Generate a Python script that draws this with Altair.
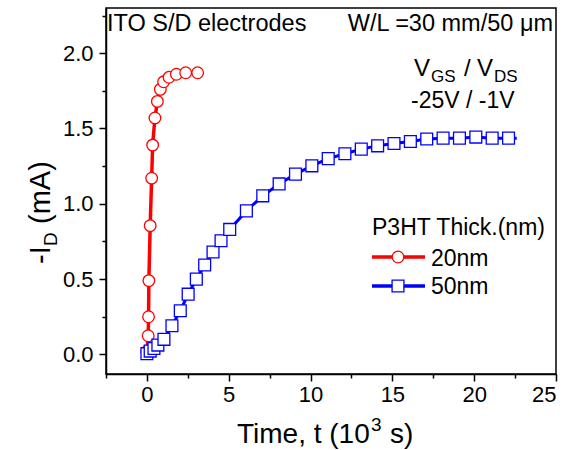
import altair as alt
import pandas as pd

# ---------------- data ----------------
red_t = [0.0, 0.08, 0.10, 0.12, 0.20, 0.29, 0.35, 0.49, 0.64, 0.82, 1.02, 1.35, 1.80, 2.37, 3.10]
red_i = [0.02, 0.124, 0.25, 0.49, 0.855, 1.17, 1.39, 1.57, 1.68, 1.76, 1.81, 1.84, 1.86, 1.87, 1.87]

blue_t = [0.0, 0.20, 0.43, 0.67, 1.04, 1.53, 2.04, 2.52, 3.02, 3.53, 4.04, 4.53, 5.06,
          6.08, 7.08, 8.08, 9.08, 10.08, 11.08, 12.1, 13.1, 14.1, 15.1, 16.1, 17.1,
          18.1, 19.1, 20.1, 21.1, 22.1]
blue_i = [0.005, 0.022, 0.04, 0.062, 0.10, 0.19, 0.29, 0.40, 0.50, 0.594, 0.68, 0.755, 0.83,
          0.953, 1.053, 1.132, 1.197, 1.252, 1.30, 1.332, 1.363, 1.385, 1.40, 1.414, 1.43,
          1.436, 1.436, 1.443, 1.436, 1.436]
blue_line_end_t = [22.6]
blue_line_end_i = [1.436]

series_names = ["20nm", "50nm"]
legend_title = ["P3HT Thick.(nm)"]
x_major = [0, 5, 10, 15, 20, 25]
x_minor = [-2.5, 2.5, 7.5, 12.5, 17.5, 22.5]
y_major = [0.0, 0.5, 1.0, 1.5, 2.0]
y_minor = [0.25, 0.75, 1.25, 1.75, 2.25]
x_domain = [-2.5, 25]
y_domain = [-0.13, 2.30]

FONT = "Liberation Sans"
RED = "#FF0000"
BLUE = "#0000FF"

# layout: plot origin in canvas pixels
OX, OY = 106, 8
W, H = 450, 366


def px(cx):
    return cx - OX


def py(cy):
    return cy - OY


red_df = pd.DataFrame({"t": red_t, "i": red_i})
blue_mk = pd.DataFrame({"t": blue_t, "i": blue_i})
blue_ln = pd.DataFrame({"t": blue_t + blue_line_end_t, "i": blue_i + blue_line_end_i})

xs = alt.Scale(domain=x_domain, nice=False, zero=False)
ys = alt.Scale(domain=y_domain, nice=False, zero=False)

ax_major_x = alt.Axis(values=x_major, title=None, grid=False, tickSize=7, labelPadding=3,
                      format="d")
ax_major_y = alt.Axis(values=y_major, title=None, grid=False, tickSize=7, labelPadding=6,
                      format=".1f")


def X(axis=None):
    return alt.X("t:Q", scale=xs, axis=axis)


def Y(axis=None):
    return alt.Y("i:Q", scale=ys, axis=axis)


red_line = alt.Chart(red_df).mark_line(color=RED, strokeWidth=3.5).encode(
    x=X(ax_major_x), y=Y(ax_major_y))
red_pts = alt.Chart(red_df).mark_point(shape="circle", size=135, filled=True, fill="white",
                                       stroke=RED, strokeWidth=1.3, opacity=1).encode(
    x=X(), y=Y())
blue_line = alt.Chart(blue_ln).mark_line(color=BLUE, strokeWidth=3).encode(x=X(), y=Y())
blue_pts = alt.Chart(blue_mk).mark_point(shape="square", size=140, filled=True, fill="white",
                                         stroke=BLUE, strokeWidth=1.3, opacity=1).encode(
    x=X(), y=Y())

# minor ticks via a second, label-less axis
minor_df = pd.DataFrame({"t": [0.0], "i": [0.0]})
minor = alt.Chart(minor_df).mark_point(opacity=0).encode(
    x=X(alt.Axis(values=x_minor, labels=False, title=None, grid=False,
                 tickSize=4, orient="bottom", domain=False)),
    y=Y(alt.Axis(values=y_minor, labels=False, title=None, grid=False,
                 tickSize=4, orient="left", domain=False)),
)


def text_layer(txt, cx, cy, size=23, align="left", angle=0, baseline="alphabetic"):
    d = pd.DataFrame({"label": [txt]})
    return alt.Chart(d).mark_text(font=FONT, fontSize=size, align=align, baseline=baseline,
                                  angle=angle, color="black").encode(
        x=alt.value(px(cx)), y=alt.value(py(cy)), text="label:N")


annotations = [
    text_layer("ITO S/D electrodes", 107, 31, size=23.5),
    text_layer("W/L =30 mm/50 μm", 553, 31, size=23.5, align="right"),
    # V_GS / V_DS
    text_layer("V", 414, 76, size=24),
    text_layer("GS", 431, 82, size=17),
    text_layer("/", 464, 76, size=24),
    text_layer("V", 477, 76, size=24),
    text_layer("DS", 494, 82, size=17),
    text_layer("-25V / -1V", 411, 108),
    # legend
    text_layer(legend_title[0], 372, 235),
    text_layer(series_names[0], 431, 266),
    text_layer(series_names[1], 431, 294),
    # x axis title: Time, t (10^3 s)
    text_layer("Time, t (10", 237, 443, size=28),
    text_layer("3", 371, 431, size=19),
    text_layer("s)", 390, 443, size=28),
    # y axis title: -I_D (mA), rotated
    text_layer("-I", 50, 264, size=29, angle=270),
    text_layer("D", 57, 246, size=19, angle=270),
    text_layer("(mA)", 50, 224, size=29, angle=270),
]

leg_d = pd.DataFrame({"label": series_names})
legend_marks = [
    alt.Chart(leg_d.iloc[[0]]).mark_rule(color=RED, strokeWidth=3.5).encode(
        x=alt.value(px(372)), x2=alt.value(px(425)), y=alt.value(py(257))),
    alt.Chart(leg_d.iloc[[0]]).mark_point(shape="circle", size=135, filled=True, fill="white",
                                          stroke=RED, strokeWidth=1.3, opacity=1).encode(
        x=alt.value(px(398)), y=alt.value(py(257))),
    alt.Chart(leg_d.iloc[[1]]).mark_rule(color=BLUE, strokeWidth=3.5).encode(
        x=alt.value(px(372)), x2=alt.value(px(425)), y=alt.value(py(286))),
    alt.Chart(leg_d.iloc[[1]]).mark_point(shape="square", size=140, filled=True, fill="white",
                                          stroke=BLUE, strokeWidth=1.3, opacity=1).encode(
        x=alt.value(px(398)), y=alt.value(py(286))),
]

chart = alt.layer(
    red_line, minor, red_pts, blue_line, blue_pts, *legend_marks, *annotations
).resolve_axis(x="independent", y="independent").properties(
    width=W, height=H,
    autosize=alt.AutoSizeParams(type="none"),
    padding={"left": OX, "top": OY, "right": 571 - OX - W, "bottom": 450 - OY - H},
    background="white",
).configure_view(
    stroke="black", strokeWidth=1.5
).configure_axis(
    labelFont=FONT, labelFontSize=22, labelColor="black",
    domainColor="black", domainWidth=1.5, tickColor="black", tickWidth=1.5,
)

chart.save("out.html", embed_options={"renderer": "svg", "actions": False})
